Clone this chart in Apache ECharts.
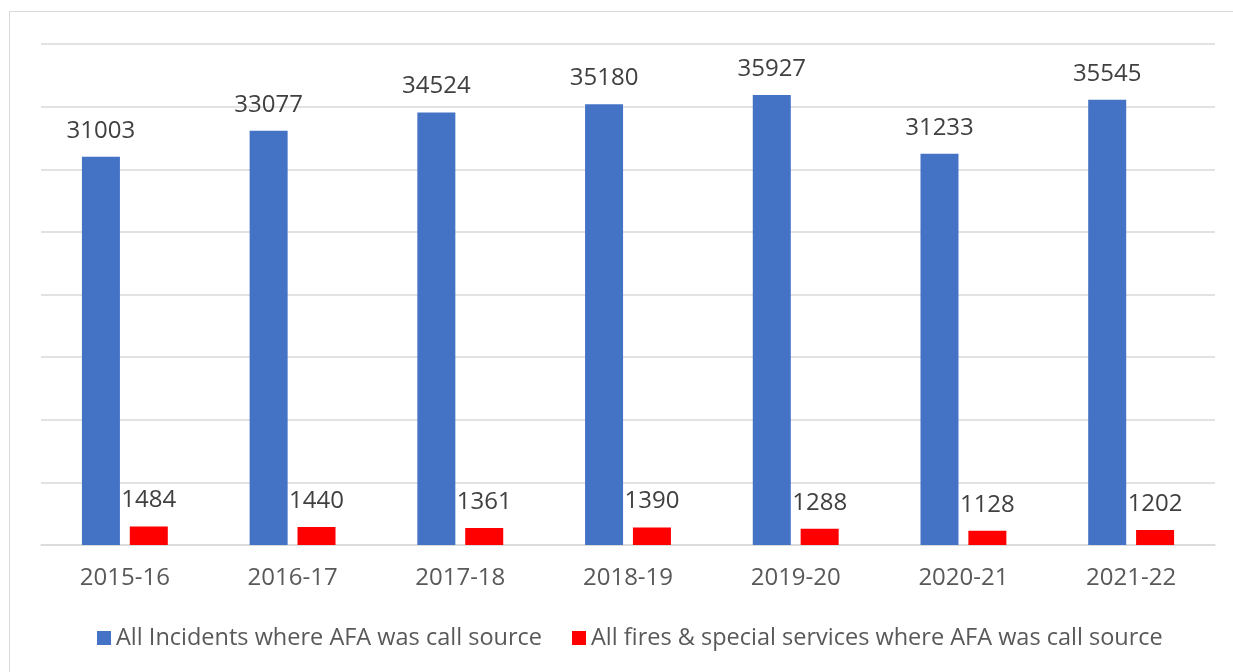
<!DOCTYPE html>
<html><head><meta charset="utf-8">
<script src="https://cdn.jsdelivr.net/npm/echarts@6/dist/echarts.min.js"></script>
<style>html,body{margin:0;padding:0;background:#fff}#c{width:1233px;height:672px}
#frame{position:absolute;left:9px;top:11px;width:1240px;height:680px;border:1.5px solid #d9d9d9;box-sizing:border-box;pointer-events:none}</style>
</head><body><div id="c"></div><div id="frame"></div>
<script>
const categories = ['2015-16','2016-17','2017-18','2018-19','2019-20','2020-21','2021-22'];
const allIncidents = [31003,33077,34524,35180,35927,31233,35545];
const firesSpecial = [1484,1440,1361,1390,1288,1128,1202];
const seriesNames = ['All Incidents where AFA was call source','All fires & special services where AFA was call source'];
const FONT = '"Open Sans", "Liberation Sans", sans-serif';
const chart = echarts.init(document.getElementById('c'));
const lbl = {show:true, position:'top', distance:14, color:'#404040', fontSize:24, fontFamily:FONT};
chart.setOption({
  animation:false,
  grid:{left:41, right:18, top:44, bottom:127, containLabel:false},
  legend:{bottom:17, left:92, itemWidth:14, itemHeight:14, itemGap:30, icon:'rect',
    textStyle:{color:'#595959', fontSize:23.5, fontFamily:FONT}, data:seriesNames},
  xAxis:{type:'category', data:categories,
    axisLine:{lineStyle:{color:'#d9d9d9', width:1.5}}, axisTick:{show:false},
    axisLabel:{color:'#595959', fontSize:24, fontFamily:FONT, margin:21}},
  yAxis:{type:'value', min:0, max:40000, interval:5000,
    axisLabel:{show:false}, axisLine:{show:false}, axisTick:{show:false},
    splitLine:{lineStyle:{color:'#d9d9d9', width:1.5}}},
  series:[
    {name:seriesNames[0], type:'bar', data:allIncidents, barWidth:38, barGap:'26%',
      itemStyle:{color:'#4472c4'}, label:lbl},
    {name:seriesNames[1], type:'bar', data:firesSpecial, barWidth:38,
      itemStyle:{color:'#ff0000'}, label:lbl}
  ]
});
</script></body></html>
